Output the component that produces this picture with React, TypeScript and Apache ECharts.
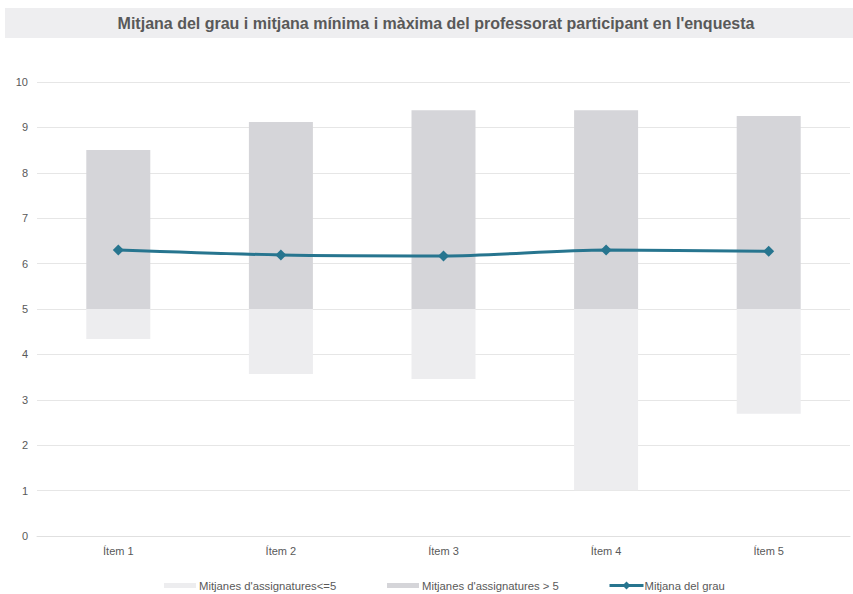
import React, { useEffect, useRef } from "react";
import * as echarts from "echarts";

const categories = ["Ítem 1", "Ítem 2", "Ítem 3", "Ítem 4", "Ítem 5"];
const minValues = [4.34, 3.57, 3.46, 1.01, 2.69];
const maxValues = [8.5, 9.12, 9.38, 9.38, 9.25];
const gradeMeans = [6.3, 6.19, 6.17, 6.3, 6.27];
const threshold = 5;
const yTicks = [0, 10, 1];

const seriesLow = "Mitjanes d'assignatures<=5";
const seriesHigh = "Mitjanes d'assignatures > 5";
const seriesMean = "Mitjana del grau";
const titleText = "Mitjana del grau i mitjana mínima i màxima del professorat participant en l'enquesta";

const FONT = "'Liberation Sans', Arial, sans-serif";
const TXT = "#595959";

export default function App() {
  const ref = useRef<HTMLDivElement>(null);
  useEffect(() => {
    document.body.style.margin = "0";
    if (!ref.current) return;
    const chart = echarts.init(ref.current, undefined, { renderer: "svg" });
    const base = minValues.map((v) => v);
    const low = minValues.map((v) => +(threshold - v).toFixed(2));
    const high = maxValues.map((v) => +(v - threshold).toFixed(2));
    const legendCommon = {
      top: 580,
      itemHeight: 5,
      itemWidth: 32,
      itemGap: 4,
      textStyle: { fontFamily: FONT, fontSize: 11.3, color: TXT, padding: [0, 0, 0, -2] },
      padding: 0,
    };
    chart.setOption({
      animation: false,
      textStyle: { fontFamily: FONT },
      graphic: [
        {
          type: "rect",
          shape: { x: 5, y: 8, width: 848, height: 30 },
          style: { fill: "#eeeef0" },
          silent: true,
        },
        {
          type: "text",
          x: 436,
          y: 23,
          style: {
            text: titleText,
            fontFamily: FONT,
            fontSize: 16,
            fontWeight: "bold",
            fill: TXT,
            align: "center",
            verticalAlign: "middle",
          },
        },
      ],
      legend: [
        { ...legendCommon, left: 164, data: [{ name: seriesLow, icon: "rect" }] },
        { ...legendCommon, left: 387, data: [{ name: seriesHigh, icon: "rect" }] },
        {
          ...legendCommon,
          top: 580,
          left: 608,
          itemWidth: 34,
          itemHeight: 10,
          lineStyle: { width: 3 },
          textStyle: { ...legendCommon.textStyle, padding: [0, 0, 0, -4] },
          data: [{ name: seriesMean }],
        },
      ],
      grid: { left: 37, right: 3, top: 82, bottom: 58, containLabel: false },
      xAxis: {
        type: "category",
        data: categories,
        axisLine: { lineStyle: { color: "#e0e0e0" } },
        axisTick: { show: false },
        axisLabel: { color: TXT, fontSize: 11, fontFamily: FONT, margin: 9 },
      },
      yAxis: {
        type: "value",
        min: yTicks[0],
        max: yTicks[1],
        interval: yTicks[2],
        axisLine: { show: false },
        axisTick: { show: false },
        splitLine: { lineStyle: { color: "#e6e6e6" } },
        axisLabel: { color: TXT, fontSize: 11, fontFamily: FONT, margin: 9 },
      },
      series: [
        {
          name: "base",
          type: "bar",
          stack: "s",
          data: base,
          barWidth: 64,
          itemStyle: { color: "rgba(0,0,0,0)" },
          silent: true,
        },
        {
          name: seriesLow,
          type: "bar",
          stack: "s",
          data: low,
          barWidth: 64,
          itemStyle: { color: "#ededef" },
        },
        {
          name: seriesHigh,
          type: "bar",
          stack: "s",
          data: high,
          barWidth: 64,
          itemStyle: { color: "#d5d5d9" },
        },
        {
          name: seriesMean,
          type: "line",
          data: gradeMeans,
          smooth: 0.3,
          symbol: "diamond",
          symbolSize: 11,
          lineStyle: { color: "#27758f", width: 3 },
          itemStyle: { color: "#27758f" },
          z: 5,
        },
      ],
    });
    return () => chart.dispose();
  }, []);
  return <div ref={ref} style={{ width: 853, height: 594 }} />;
}
